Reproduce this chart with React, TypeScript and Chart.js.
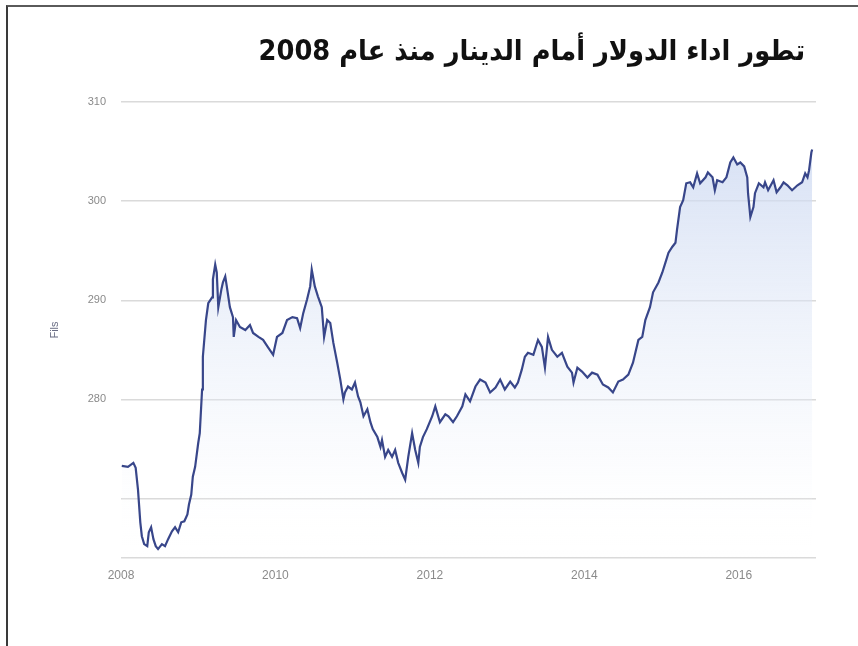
import React, { useEffect, useRef } from "react";
import { Chart, registerables } from "chart.js";

Chart.register(...registerables);

const TITLE = "تطور اداء الدولار أمام الدينار منذ عام 2008";
const Y_AXIS_TITLE = "Fils";

// Decimal years
const years = [
  2008.01, 2008.09, 2008.16, 2008.19, 2008.22, 2008.25, 2008.27, 2008.3, 2008.34, 2008.36,
  2008.39, 2008.42, 2008.45, 2008.48, 2008.53, 2008.57, 2008.61, 2008.66, 2008.7, 2008.74,
  2008.78, 2008.82, 2008.86, 2008.88, 2008.91, 2008.93, 2008.96, 2008.98, 2009.0, 2009.02,
  2009.05, 2009.06, 2009.1, 2009.13, 2009.18, 2009.19, 2009.22, 2009.24, 2009.26, 2009.3,
  2009.32, 2009.35, 2009.37, 2009.41, 2009.45, 2009.46, 2009.49, 2009.54, 2009.61, 2009.67,
  2009.71, 2009.78, 2009.84, 2009.9, 2009.97, 2010.02, 2010.09, 2010.15, 2010.22, 2010.28,
  2010.32, 2010.36, 2010.41, 2010.45, 2010.47, 2010.51, 2010.55, 2010.6, 2010.63, 2010.67,
  2010.71, 2010.75, 2010.8, 2010.84, 2010.88, 2010.9, 2010.94, 2010.99, 2011.03, 2011.07,
  2011.1, 2011.14, 2011.19, 2011.23, 2011.26, 2011.32, 2011.36, 2011.38, 2011.42, 2011.46,
  2011.51, 2011.55, 2011.59, 2011.64, 2011.68, 2011.72, 2011.77, 2011.81, 2011.85, 2011.87,
  2011.91, 2011.96, 2012.03, 2012.07, 2012.13, 2012.2, 2012.24, 2012.3, 2012.35, 2012.42,
  2012.46, 2012.52, 2012.59, 2012.65, 2012.72, 2012.78, 2012.85, 2012.91, 2012.97, 2013.04,
  2013.1, 2013.14, 2013.19, 2013.23, 2013.27, 2013.34, 2013.4, 2013.45, 2013.49, 2013.53,
  2013.58, 2013.65, 2013.71, 2013.78, 2013.84, 2013.86, 2013.91, 2013.97, 2014.04, 2014.1,
  2014.17, 2014.24, 2014.31, 2014.37, 2014.44, 2014.5, 2014.57, 2014.63, 2014.7, 2014.75,
  2014.79, 2014.85, 2014.89, 2014.96, 2015.01, 2015.05, 2015.09, 2015.14, 2015.18, 2015.2,
  2015.24, 2015.28, 2015.32, 2015.37, 2015.41, 2015.46, 2015.5, 2015.57, 2015.6, 2015.66,
  2015.69, 2015.72, 2015.79, 2015.84, 2015.89, 2015.93, 2015.98, 2016.02, 2016.07, 2016.11,
  2016.12, 2016.15, 2016.19, 2016.21, 2016.26, 2016.32, 2016.34, 2016.38, 2016.45, 2016.49,
  2016.54, 2016.58, 2016.63, 2016.69, 2016.76, 2016.82, 2016.86, 2016.89, 2016.91, 2016.94,
  2016.95,
];

// Dollar price in fils
const fils = [
  273.3, 273.2, 273.6, 273.1, 270.9, 267.6, 266.2, 265.4, 265.2, 266.6,
  267.1, 265.9, 265.2, 264.9, 265.4, 265.2, 265.9, 266.7, 267.1, 266.6,
  267.6, 267.7, 268.4, 269.4, 270.4, 272.2, 273.2, 274.4, 275.6, 276.6,
  281.0, 284.3, 288.0, 289.7, 290.3, 292.1, 293.6, 292.8, 289.3, 291.1,
  291.8, 292.4, 291.4, 289.3, 288.3, 286.3, 288.0, 287.3, 287.0, 287.5,
  286.7, 286.3, 286.0, 285.3, 284.5, 286.3, 286.7, 288.0, 288.3, 288.2,
  287.2, 288.7, 290.1, 291.4, 293.1, 291.4, 290.4, 289.3, 286.3, 288.0,
  287.7, 285.7, 283.7, 282.0, 280.0, 280.7, 281.3, 281.0, 281.7, 280.3,
  279.7, 278.3, 279.0, 277.7, 277.0, 276.2, 275.2, 275.9, 274.2, 274.9,
  274.2, 274.9, 273.6, 272.6, 271.9, 274.2, 276.6, 274.9, 273.6, 275.2,
  276.2, 277.0, 278.3, 279.3, 277.7, 278.5, 278.3, 277.7, 278.3, 279.3,
  280.5, 279.8, 281.3, 282.0, 281.7, 280.7, 281.2, 282.0, 281.0, 281.8,
  281.2, 281.7, 283.0, 284.3, 284.7, 284.5, 286.0, 285.3, 283.2, 286.3,
  285.0, 284.3, 284.7, 283.3, 282.7, 281.7, 283.2, 282.8, 282.2, 282.7,
  282.5, 281.5, 281.2, 280.7, 281.8, 282.0, 282.5, 283.7, 286.0, 286.3,
  288.0, 289.3, 290.8, 291.8, 292.8, 293.8, 294.8, 295.4, 295.8, 297.1,
  299.4, 300.1, 301.8, 301.9, 301.4, 302.8, 301.8, 302.4, 302.9, 302.4,
  301.1, 302.1, 301.9, 302.4, 303.9, 304.4, 303.7, 303.9, 303.5, 302.4,
  300.8, 298.4, 299.4, 300.8, 301.8, 301.4, 301.9, 301.1, 302.1, 300.9,
  301.4, 301.9, 301.6, 301.1, 301.6, 301.9, 302.8, 302.4, 303.1, 304.9,
  305.2,
];

const xTickValues = [2008, 2010, 2012, 2014, 2016];
const yGridValues = [264, 270, 280, 290, 300, 310];
const yTickLabels = [280, 290, 300, 310];

export default function App() {
  const ref = useRef<HTMLCanvasElement>(null);

  useEffect(() => {
    const canvas = ref.current;
    if (!canvas) return;
    const chart = new Chart(canvas, {
      type: "line",
      data: {
        datasets: [
          {
            data: years.map((x, i) => ({ x, y: fils[i] })),
            borderColor: "#38468a",
            borderWidth: 2.2,
            pointRadius: 0,
            tension: 0,
            fill: "start",
            backgroundColor: (c: any) => {
              const { chartArea, ctx } = c.chart;
              if (!chartArea) return "rgba(0,0,0,0)";
              const g = ctx.createLinearGradient(0, chartArea.top, 0, chartArea.bottom);
              g.addColorStop(0, "rgba(200,213,240,0.85)");
              g.addColorStop(0.65, "rgba(228,235,248,0.35)");
              g.addColorStop(1, "rgba(255,255,255,0)");
              return g;
            },
          },
        ],
      },
      options: {
        responsive: false,
        animation: false,
        layout: { padding: { left: 0, right: 42, top: 102, bottom: 0 } },
        plugins: { legend: { display: false }, tooltip: { enabled: false }, title: { display: false } },
        scales: {
          x: {
            type: "linear",
            min: 2008,
            max: 2017,
            afterFit: (s: any) => {
              s.height = 88;
            },
            afterBuildTicks: (s: any) => {
              s.ticks = xTickValues.map((v) => ({ value: v }));
            },
            grid: { display: false, drawTicks: false },
            border: { display: false },
            ticks: {
              padding: 10,
              color: "#8a8a8a",
              autoSkip: false,
              maxRotation: 0,
              font: { family: "'Liberation Sans', Arial, sans-serif", size: 12 },
              callback: (v: any) => String(v),
            },
          },
          y: {
            type: "linear",
            min: 264,
            max: 310,
            afterFit: (s: any) => {
              s.width = 121;
            },
            afterBuildTicks: (s: any) => {
              s.ticks = yGridValues.map((v) => ({ value: v }));
            },
            grid: { color: "#dadada", lineWidth: 1.5, drawTicks: false },
            border: { display: false },
            ticks: {
              padding: 15,
              color: "#8a8a8a",
              font: { family: "'Liberation Sans', Arial, sans-serif", size: 11 },
              callback: (v: any) => (yTickLabels.includes(Number(v)) ? String(v) : ""),
            },
            title: {
              display: true,
              text: Y_AXIS_TITLE,
              color: "#6a6e85",
              font: { family: "'Liberation Sans', Arial, sans-serif", size: 11 },
              padding: { top: 48, bottom: 0 },
            },
          },
        },
      },
    });
    return () => chart.destroy();
  }, []);

  return (
    <div
      style={{
        position: "absolute",
        left: 0,
        top: 0,
        width: 858,
        height: 646,
        overflow: "hidden",
        background: "#ffffff",
      }}
    >
      <canvas ref={ref} width={858} height={646} style={{ position: "absolute", left: 0, top: 0, width: 858, height: 646 }} />
      <div
        style={{
          position: "absolute",
          left: 6,
          top: 5,
          width: 900,
          height: 700,
          borderTop: "2px solid #5a5a5a",
          borderLeft: "2px solid #3a3a3a",
          pointerEvents: "none",
        }}
      />
      <div
        style={{
          position: "absolute",
          right: 53,
          top: 31,
          direction: "rtl",
          whiteSpace: "nowrap",
          fontFamily: "'DejaVu Sans', sans-serif",
          fontWeight: "bold",
          fontSize: 28,
          lineHeight: "40px",
          color: "#111111",
          transform: "scaleX(0.92)",
          transformOrigin: "right center",
        }}
      >
        {TITLE}
      </div>
    </div>
  );
}
